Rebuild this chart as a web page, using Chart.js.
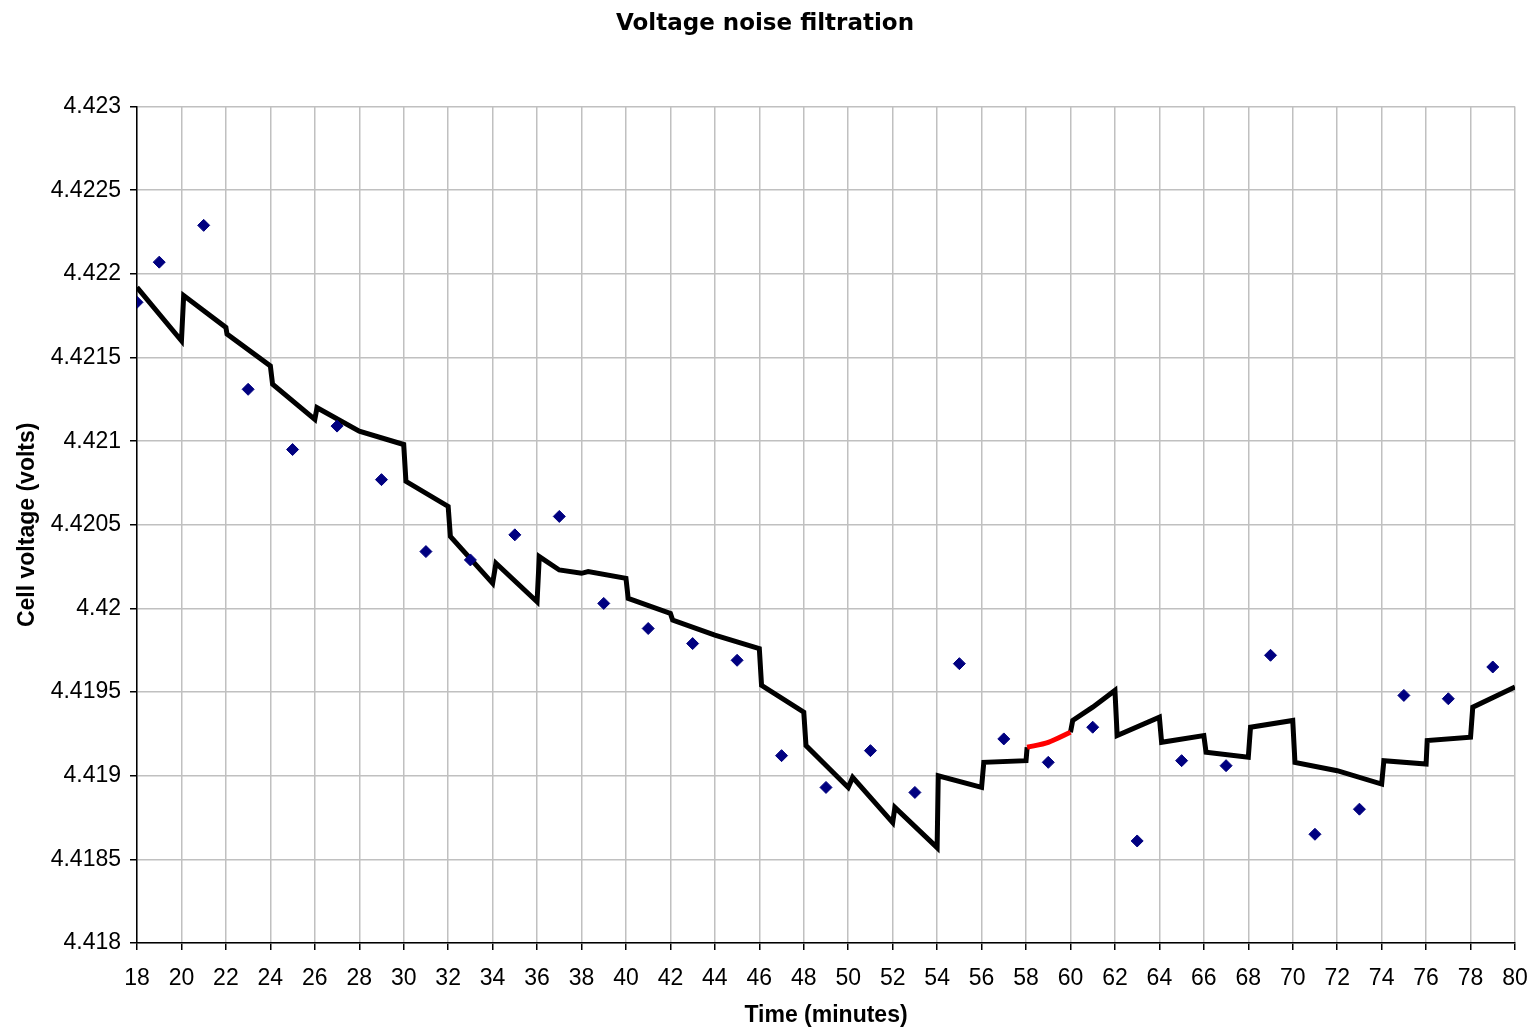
<!DOCTYPE html>
<html>
<head>
<meta charset="utf-8">
<title>Voltage noise filtration</title>
<script src="https://cdn.jsdelivr.net/npm/chart.js@4/dist/chart.umd.min.js"></script>
<style>
  html, body { margin: 0; padding: 0; background: #fff; }
  #wrap { width: 1530px; height: 1029px; }
</style>
</head>
<body>
<div id="wrap"><canvas id="myChart"></canvas></div>
<script>
// raw readings (blue diamonds)
const sampleMin = [18, 19, 21, 23, 25, 27, 29, 31, 33, 35, 37, 39, 41, 43, 45, 47,
  49, 51, 53, 55, 57, 59, 61, 63, 65, 67, 69, 71, 73, 75, 77, 79];
const sampleVolts = [4.42183, 4.42207, 4.42229, 4.42131, 4.42095, 4.42109, 4.42077, 4.42034,
  4.42029, 4.42044, 4.42055, 4.42003, 4.41988, 4.41979, 4.41969, 4.41912,
  4.41893, 4.41915, 4.4189, 4.41967, 4.41922, 4.41908, 4.41929, 4.41861,
  4.41909, 4.41906, 4.41972, 4.41865, 4.4188, 4.41948, 4.41946, 4.41965];

// filtered output (black line), null = gap where the red part is
const filterMin = [18, 20, 20.1, 22, 22.05, 24, 24.1, 26, 26.1, 28, 30, 30.1, 32, 32.1,
  34, 34.15, 36, 36.1, 37, 38, 38.3, 40, 40.1, 42, 42.1, 44, 46, 46.1, 48, 48.1,
  50, 50.2, 52, 52.1, 54, 54.05, 56, 56.1, 58, 58.05, 59, 60, 60.1, 61, 62, 62.1,
  64, 64.1, 66, 66.1, 68, 68.1, 70, 70.1, 72, 74, 74.1, 76, 76.05, 78, 78.1, 80];
const filterVolts = [4.42192, 4.4216, 4.42187, 4.42168, 4.42164, 4.42145, 4.42134, 4.42113,
  4.4212, 4.42106, 4.42098, 4.42076, 4.42061, 4.42043, 4.42015, 4.42027, 4.42004,
  4.42031, 4.42023, 4.42021, 4.42022, 4.42018, 4.42006, 4.41997, 4.41993, 4.41984,
  4.41976, 4.41954, 4.41938, 4.41918, 4.41893, 4.41899, 4.41872, 4.41881, 4.41857,
  4.419, 4.41893, 4.41908, 4.41909, 4.41917, null, 4.41926, 4.41933, 4.41941, 4.41951,
  4.41924, 4.41935, 4.4192, 4.41924, 4.41914, 4.41911, 4.41929, 4.41933, 4.41908,
  4.41903, 4.41895, 4.41909, 4.41907, 4.41921, 4.41923, 4.41941, 4.41953];

// highlighted piece (red)
const redMin = [58.05, 59, 60];
const redVolts = [4.41917, 4.4192, 4.41926];

const yMin = 4.418, yMax = 4.423, yStep = 0.0005;
const xMin = 18, xMax = 80, xStep = 2;

const pts = (xs, ys) => xs.map((x, i) => ({ x: x, y: ys[i] }));

const tickFont = { family: "'Liberation Sans', Arial, sans-serif", size: 23 };
const titleFont = { family: "'Liberation Sans', Arial, sans-serif", size: 23, weight: 'bold' };

new Chart(document.getElementById('myChart'), {
  type: 'scatter',
  data: {
    datasets: [
      {
        label: 'Filtered',
        data: pts(filterMin, filterVolts),
        showLine: true,
        spanGaps: false,
        borderColor: '#000000',
        borderWidth: 5,
        pointRadius: 0,
        tension: 0,
        order: 2
      },
      {
        label: 'Highlight',
        data: pts(redMin, redVolts),
        showLine: true,
        borderColor: '#ff0000',
        borderWidth: 5,
        pointRadius: 0,
        tension: 0.3,
        order: 1
      },
      {
        label: 'Raw',
        data: pts(sampleMin, sampleVolts),
        backgroundColor: '#000080',
        borderColor: '#000080',
        borderWidth: 1,
        pointStyle: 'rectRot',
        pointRadius: 6,
        order: 0
      }
    ]
  },
  options: {
    responsive: true,
    maintainAspectRatio: false,
    animation: false,
    layout: { padding: 0 },
    plugins: {
      legend: { display: false },
      tooltip: { enabled: false },
      title: {
        display: true,
        text: 'Voltage noise filtration',
        color: '#000',
        font: { family: "'DejaVu Sans', Verdana, sans-serif", size: 23, weight: 'bold' },
        padding: { top: 10, bottom: 69 }
      }
    },
    scales: {
      x: {
        type: 'linear',
        min: xMin,
        max: xMax,
        ticks: { stepSize: xStep, color: '#000', font: tickFont, padding: 15, maxRotation: 0 },
        grid: { color: '#c0c0c0', lineWidth: 1.5, tickColor: '#000', tickLength: 7 },
        border: { color: '#000', width: 1.5 },
        title: { display: true, text: 'Time (minutes)', color: '#000', font: titleFont, padding: { top: 0, bottom: 0 } },
        afterFit: s => { s.height = 86; s.paddingLeft = 0; s.paddingRight = 15; }
      },
      y: {
        min: yMin,
        max: yMax,
        ticks: {
          stepSize: yStep, color: '#000', font: tickFont, padding: 9,
          callback: v => String(parseFloat(v.toFixed(4)))
        },
        grid: { color: '#c0c0c0', lineWidth: 1.5, tickColor: '#000', tickLength: 7 },
        border: { color: '#000', width: 1.5 },
        title: { display: true, text: 'Cell voltage (volts)', color: '#000', font: titleFont, padding: { top: 14, bottom: 0 } },
        afterFit: s => { s.width = 137; }
      }
    }
  }
});
</script>
</body>
</html>
